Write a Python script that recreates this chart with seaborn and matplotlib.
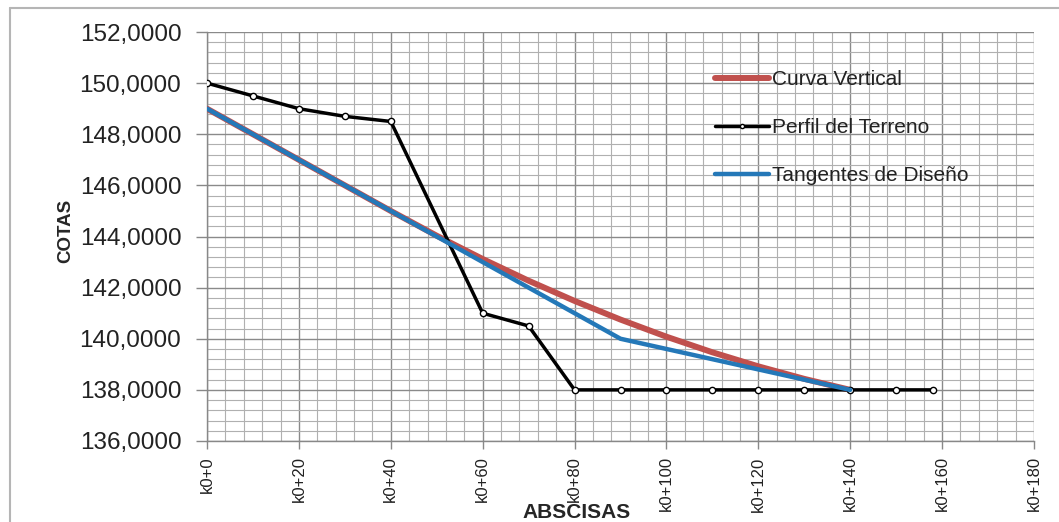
import matplotlib
matplotlib.use("Agg")
import matplotlib.pyplot as plt
import seaborn as sns
import pandas as pd
from matplotlib.ticker import FuncFormatter, MultipleLocator
from matplotlib.lines import Line2D

# ---- data ----
terreno_x = [0, 10, 20, 30, 40, 60, 70, 80, 90, 100, 110, 120, 130, 140, 150, 158]
terreno_y = [150.0, 149.5, 149.0, 148.7, 148.5, 141.0, 140.5, 138.0, 138.0, 138.0,
             138.0, 138.0, 138.0, 138.0, 138.0, 138.0]
curva_x = [0, 10, 20, 30, 40, 50, 60, 70, 80, 90, 100, 110, 120, 130, 140]
curva_y = [149.0, 148.0, 147.0, 146.0, 145.0, 144.03, 143.12, 142.27, 141.48,
           140.75, 140.08, 139.47, 138.92, 138.43, 138.0]
tang_x = [0, 90, 140]
tang_y = [149.0, 140.0, 138.0]
x_ticks = [0, 20, 40, 60, 80, 100, 120, 140, 160, 180]
x_labels = ["k0+0", "k0+20", "k0+40", "k0+60", "k0+80", "k0+100", "k0+120",
            "k0+140", "k0+160", "k0+180"]
y_ticks = [136, 138, 140, 142, 144, 146, 148, 150, 152]
series_names = ["Curva Vertical", "Perfil del Terreno", "Tangentes de Diseño"]
colors = ["#C0504D", "#000000", "#2478B8"]

sns.set_theme(style="white")
plt.rcParams["font.family"] = ["Liberation Sans", "DejaVu Sans"]

W, H = 1059, 522
fig = plt.figure(figsize=(W / 100, H / 100), dpi=100)
L, R, T, B = 207, 1034, 32, 441
ax = fig.add_axes([L / W, 1 - B / H, (R - L) / W, (B - T) / H])

df_c = pd.DataFrame({"x": curva_x, "y": curva_y})
df_t = pd.DataFrame({"x": terreno_x, "y": terreno_y})
df_g = pd.DataFrame({"x": tang_x, "y": tang_y})

sns.lineplot(data=df_c, x="x", y="y", ax=ax, color=colors[0], linewidth=4.3,
             sort=False, zorder=3)
sns.lineplot(data=df_t, x="x", y="y", ax=ax, color=colors[1], linewidth=2.5,
             marker="o", markersize=4.5, markerfacecolor="white",
             markeredgecolor="black", markeredgewidth=1.0, sort=False, zorder=4)
sns.lineplot(data=df_g, x="x", y="y", ax=ax, color=colors[2], linewidth=3.2,
             sort=False, zorder=5)

ax.set_xlim(0, 180)
ax.set_ylim(136, 152)
ax.set_xticks(x_ticks)
ax.set_xticklabels(x_labels, rotation=90, fontsize=12, color="#222222")
ax.set_yticks(y_ticks)
ax.yaxis.set_major_formatter(FuncFormatter(lambda v, p: f"{v:.4f}".replace(".", ",")))
ax.xaxis.set_minor_locator(MultipleLocator(4))
ax.yaxis.set_minor_locator(MultipleLocator(0.4))
ax.tick_params(axis="y", labelsize=17.5, labelcolor="#222222", length=8,
               color="#888888", width=1, pad=10.5, which="major", left=True)
ax.tick_params(axis="x", length=6, color="#888888", width=1, pad=5,
               which="major", bottom=True)
ax.tick_params(which="minor", length=0)
ax.grid(True, which="major", color="#8a8a8a", linewidth=1.0, zorder=0)
ax.grid(True, which="minor", color="#b0b0b0", linewidth=0.8, zorder=0)
ax.set_axisbelow(True)
for s in ["top", "right"]:
    ax.spines[s].set_visible(False)
for s in ["left", "bottom"]:
    ax.spines[s].set_color("#888888")
    ax.spines[s].set_linewidth(1.0)

ax.set_xlabel("ABSCISAS", fontsize=15, fontweight="bold")
ax.xaxis.set_label_coords((577 - L) / (R - L), (B - 503) / (B - T))
ax.set_ylabel("COTAS", fontsize=13.5, fontweight="bold")
ax.yaxis.set_label_coords((74 - L) / (R - L), (B - 231) / (B - T))

handles = [
    Line2D([], [], color=colors[0], linewidth=4.3),
    Line2D([0, 1, 2], [0, 0, 0], color=colors[1], linewidth=2.5, marker="o",
           markersize=3, markerfacecolor="white", markeredgecolor="black",
           markevery=[1]),
    Line2D([], [], color=colors[2], linewidth=3.2),
]
leg = ax.legend(handles, series_names, loc="upper left",
                bbox_to_anchor=((715 - L) / (R - L), (B - 70) / (B - T)),
                frameon=False, fontsize=15, handlelength=2.6, handletextpad=0.15,
                labelspacing=1.4, borderpad=0, borderaxespad=0)
for t in leg.get_texts():
    t.set_color("#222222")

# outer chart border (left and top)
fig.add_artist(Line2D([10 / W, 10 / W], [0, 1 - 8 / H], color="#b5b5b5", linewidth=1.5))
fig.add_artist(Line2D([10 / W, 1], [1 - 8 / H, 1 - 8 / H], color="#b5b5b5", linewidth=1.5))

fig.savefig("out.png", dpi=100)
